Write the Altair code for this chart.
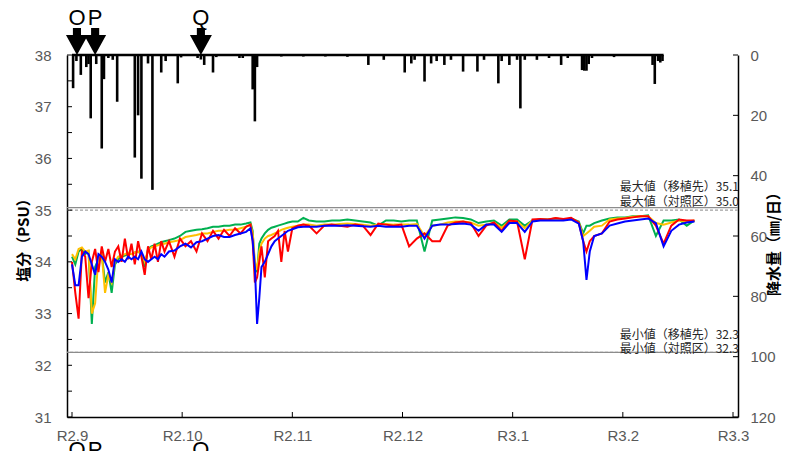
import altair as alt
import pandas as pd

# ---------------- data ----------------
# x position in months from R2.9 (0) to R3.3 (6)
months = [0.00, 0.03, 0.06, 0.09, 0.12, 0.15, 0.18, 0.21, 0.24, 0.27, 0.30, 0.33, 0.36, 0.39, 0.42,
          0.45, 0.48, 0.51, 0.54, 0.57, 0.60, 0.63, 0.66, 0.69, 0.72, 0.75, 0.78, 0.81, 0.84,
          0.88, 0.93, 0.98, 1.03, 1.08, 1.13, 1.18, 1.23, 1.28, 1.33, 1.38, 1.43, 1.48, 1.53, 1.58, 1.62,
          1.64, 1.66, 1.68, 1.70, 1.72, 1.75, 1.78, 1.81, 1.84, 1.87, 1.90, 1.93, 1.96, 2.00, 2.05, 2.10, 2.15,
          2.22, 2.29, 2.36, 2.43, 2.50, 2.57, 2.64, 2.71, 2.78, 2.85, 2.92, 2.99, 3.06, 3.13, 3.20, 3.27,
          3.34, 3.41, 3.48, 3.55, 3.62, 3.69, 3.76, 3.83, 3.90, 3.97, 4.04, 4.11, 4.18, 4.25, 4.32, 4.39,
          4.46, 4.53, 4.60, 4.64, 4.67, 4.70, 4.74, 4.81, 4.88, 4.95, 5.02, 5.09, 5.16, 5.23, 5.30, 5.37,
          5.44, 5.51, 5.58, 5.65]

green = [34.10, 33.95, 34.20, 34.25, 34.15, 34.20, 32.80, 33.90, 34.05, 34.15, 33.60, 33.80, 33.40, 33.95, 34.05,
         34.10, 34.12, 34.15, 34.15, 34.18, 34.20, 34.15, 33.90, 34.25, 34.30, 34.32, 34.35, 34.38, 34.40,
         34.42, 34.45, 34.50, 34.58, 34.60, 34.62, 34.63, 34.65, 34.68, 34.68, 34.70, 34.70, 34.72, 34.72, 34.74, 34.76,
         34.60, 33.90, 33.80, 34.35, 34.45, 34.55, 34.62, 34.66, 34.68, 34.70, 34.72, 34.74, 34.76, 34.78, 34.78, 34.85, 34.80,
         34.78, 34.78, 34.80, 34.80, 34.82, 34.80, 34.78, 34.76, 34.70, 34.80, 34.80, 34.78, 34.80, 34.80, 34.20, 34.80,
         34.82, 34.84, 34.86, 34.85, 34.82, 34.75, 34.78, 34.80, 34.70, 34.82, 34.82, 34.70, 34.80, 34.82, 34.82, 34.84,
         34.82, 34.84, 34.78, 34.55, 34.70, 34.70, 34.75, 34.80, 34.84, 34.86, 34.86, 34.88, 34.88, 34.90, 34.50, 34.80,
         34.80, 34.82, 34.70, 34.80]

yellow = [34.15, 34.05, 34.25, 34.28, 34.20, 34.22, 33.00, 33.20, 34.10, 34.15, 33.40, 33.75, 33.60, 34.00, 34.10,
          34.12, 34.15, 34.18, 34.15, 34.18, 34.20, 34.15, 34.00, 34.22, 34.28, 34.30, 34.32, 34.35, 34.35,
          34.38, 34.40, 34.42, 34.48, 34.50, 34.52, 34.55, 34.55, 34.58, 34.60, 34.60, 34.62, 34.62, 34.65, 34.68, 34.72,
          34.55, 34.00, 33.85, 34.20, 34.35, 34.45, 34.50, 34.52, 34.55, 34.58, 34.62, 34.64, 34.66, 34.68, 34.70, 34.72, 34.72,
          34.70, 34.72, 34.72, 34.73, 34.74, 34.73, 34.72, 34.70, 34.72, 34.73, 34.72, 34.72, 34.72, 34.73, 34.50, 34.70,
          34.72, 34.76, 34.78, 34.78, 34.76, 34.70, 34.72, 34.76, 34.66, 34.78, 34.78, 34.65, 34.80, 34.82, 34.82, 34.84,
          34.82, 34.84, 34.76, 34.50, 34.55, 34.60, 34.68, 34.70, 34.82, 34.84, 34.85, 34.87, 34.88, 34.88, 34.75, 34.72,
          34.76, 34.80, 34.78, 34.80]

red = [34.00, 33.40, 32.90, 34.20, 34.10, 33.30, 34.00, 34.25, 33.80, 34.30, 34.00, 34.25, 33.90, 34.20, 34.30,
       34.00, 34.45, 34.05, 34.35, 33.95, 34.40, 34.10, 33.75, 34.30, 34.05, 34.35, 34.00, 34.40, 34.20,
       34.40, 34.10, 34.45, 34.30, 34.40, 34.20, 34.55, 34.40, 34.60, 34.45, 34.62, 34.50, 34.65, 34.55, 34.68, 34.72,
       34.40, 33.60, 33.70, 34.00, 34.30, 33.70, 34.40, 34.45, 34.50, 34.60, 34.00, 34.60, 34.20, 34.65, 34.70, 34.72, 34.70,
       34.55, 34.70, 34.72, 34.70, 34.68, 34.72, 34.70, 34.52, 34.74, 34.72, 34.70, 34.72, 34.30, 34.45, 34.55, 34.40,
       34.40, 34.70, 34.76, 34.78, 34.75, 34.50, 34.70, 34.76, 34.60, 34.80, 34.78, 34.05, 34.82, 34.83, 34.82, 34.85,
       34.83, 34.85, 34.76, 34.40, 34.20, 34.40, 34.50, 34.55, 34.78, 34.82, 34.84, 34.86, 34.88, 34.88, 34.70, 34.35,
       34.70, 34.82, 34.80, 34.80]

blue = [33.95, 33.55, 33.55, 34.10, 34.20, 34.15, 33.95, 33.75, 34.15, 34.10, 34.00, 33.85, 33.60, 34.05, 34.00,
        34.05, 34.00, 34.10, 34.05, 34.10, 34.05, 34.20, 34.05, 34.00, 34.05, 34.10, 34.05, 34.15, 34.10,
        34.20, 34.22, 34.30, 34.35, 34.28, 34.38, 34.40, 34.45, 34.50, 34.52, 34.48, 34.48, 34.52, 34.55, 34.58, 34.65,
        34.40, 33.90, 32.80, 33.30, 33.90, 34.00, 34.15, 34.30, 34.40, 34.45, 34.50, 34.55, 34.60, 34.63, 34.67, 34.68, 34.68,
        34.68, 34.70, 34.70, 34.70, 34.71, 34.70, 34.69, 34.68, 34.70, 34.68, 34.68, 34.68, 34.70, 34.70, 34.45, 34.70,
        34.72, 34.72, 34.73, 34.74, 34.72, 34.60, 34.72, 34.72, 34.58, 34.75, 34.75, 34.58, 34.78, 34.80, 34.80, 34.80,
        34.80, 34.82, 34.74, 34.40, 33.65, 34.20, 34.50, 34.55, 34.70, 34.74, 34.78, 34.80, 34.82, 34.84, 34.75, 34.30,
        34.60, 34.72, 34.76, 34.78]

rain_month = [0.01, 0.04, 0.08, 0.13, 0.15, 0.17, 0.22, 0.27, 0.29, 0.33, 0.37, 0.41, 0.57, 0.60, 0.63, 0.69,
              0.73, 0.81, 0.85, 0.96, 0.99, 1.14, 1.17, 1.20, 1.28, 1.31, 1.52, 1.55, 1.64, 1.66, 1.68, 1.90,
              2.10, 2.30, 2.50, 2.69, 2.83, 3.02, 3.08, 3.11, 3.20, 3.26, 3.31, 3.38, 3.44, 3.55, 3.68, 3.74,
              3.87, 3.90, 3.97, 4.04, 4.07, 4.11, 4.22, 4.33, 4.44, 4.50, 4.63, 4.65, 4.67, 4.69, 4.72, 4.92,
              5.27, 5.29, 5.32, 5.34, 5.36]
rain_mm = [11, 2, 6.6, 4, 3, 21, 3, 31, 8, 1, 1.6, 15.5, 34, 20, 41, 2.8,
           44.7, 5.8, 2, 9.4, 0.8, 1, 1.5, 3.3, 5.8, 0.7, 1, 1, 11.4, 22, 4, 0.5,
           0.5, 0.5, 0.6, 3.3, 1.6, 5.8, 2.8, 1.6, 8.8, 2.8, 2, 3.3, 1.6, 5.5, 5.5, 1.6,
           9.4, 2, 3.3, 1.6, 17.7, 1.6, 1.6, 1, 3.3, 1, 5, 5.2, 5.2, 3, 1, 0.7,
           3.3, 9.6, 2, 2.5, 2]
rain_span = [0.0, 5.37]

x_ticks = [0, 1, 2, 3, 4, 5, 6]
x_labels = ["R2.9", "R2.10", "R2.11", "R2.12", "R3.1", "R3.2", "R3.3"]
sal_ticks = [31, 32, 33, 34, 35, 36, 37, 38]
sal_minor = [31, 31.5, 32, 32.5, 33, 33.5, 34, 34.5, 35, 35.5, 36, 36.5, 37, 37.5, 38]
rain_ticks = [0, 20, 40, 60, 80, 100, 120]

event_names = ["O", "P", "Q"]
event_month = [0.045, 0.21, 1.17]

ref_solid = [35.05, 32.25]
ref_dashed = [35.00, 32.25]
ann_text = ["最大値（移植先）35.1", "最大値（対照区）35.0", "最小値（移植先）32.3", "最小値（対照区）32.3"]
ann_ypos = [35.45, 35.16, 32.59, 32.32]

# ---------------- chart ----------------
W, H = 671, 362
FONT = "Liberation Sans"
JP = "Noto Sans CJK JP"

x_scale = alt.Scale(domain=[0, 6], nice=False, zero=False)
sal_scale = alt.Scale(domain=[31, 38], nice=False, zero=False)
rain_scale = alt.Scale(domain=[0, 120], nice=False, reverse=True)

label_expr = "[" + ",".join("'%s'" % s for s in x_labels) + "][datum.value]"
x_axis = alt.Axis(values=x_ticks, labelExpr=label_expr, ticks=False, grid=False, title="",
                  domainColor="black", domainWidth=1.5, labelColor="#595959", labelFont=FONT,
                  labelFontSize=15, labelPadding=11, labelFlush=False, labelOverlap=False)
left_axis = alt.Axis(orient="left", values=sal_ticks, ticks=False, grid=False, title="塩分（PSU）",
                     domainColor="black", domainWidth=1.5, labelColor="#595959", labelFont=FONT,
                     labelFontSize=15, labelPadding=16, titleFont=JP, titleFontSize=15,
                     titleFontWeight="bold", titleColor="black", titleAngle=270,
                     titleX=-44, titleY=H / 2, titleBaseline="middle", titleAlign="center")
right_axis = alt.Axis(orient="right", values=rain_ticks, ticks=False, grid=False, title="降水量（㎜/日）",
                      domainColor="black", domainWidth=1.5, labelColor="#595959", labelFont=FONT,
                      labelFontSize=15, labelPadding=12, titleFont=JP, titleFontSize=15,
                      titleFontWeight="bold", titleColor="black", titleAngle=270,
                      titleX=35, titleY=H / 2 + 4, titleBaseline="middle", titleAlign="center")


def X(field):
    return alt.X(field, scale=x_scale, axis=x_axis)


def YS(field):
    return alt.Y(field, scale=sal_scale, axis=left_axis)


def YR(field):
    return alt.Y(field, scale=rain_scale, axis=right_axis)


sal_df = pd.DataFrame({"m": months, "green": green, "yellow": yellow, "red": red, "blue": blue})


def sal_line(col, color):
    return alt.Chart(sal_df).mark_line(color=color, strokeWidth=2).encode(
        x=X("m:Q"), y=YS(col + ":Q"))


ref_s = alt.Chart(pd.DataFrame({"v": ref_solid})).mark_rule(color="#8c8c8c", strokeWidth=1.3).encode(
    y=YS("v:Q"))
ref_d = alt.Chart(pd.DataFrame({"v": ref_dashed})).mark_rule(color="#a0a0a0", strokeWidth=1.1,
                                                               strokeDash=[3, 2]).encode(
    y=YS("v:Q"))

ann = alt.Chart(pd.DataFrame({"t": ann_text, "y": ann_ypos, "x": [6] * 4})).mark_text(
    align="right", baseline="middle", dx=6, font=JP, fontSize=12, color="#262626", clip=True).encode(
    x=X("x:Q"), y=YS("y:Q"), text="t:N")

left_ticks = alt.Chart(pd.DataFrame({"v": sal_minor})).mark_rule(color="black", strokeWidth=1).encode(
    y=YS("v:Q"), x=alt.value(0), x2=alt.value(5))

bottom_ticks = alt.Chart(pd.DataFrame({"m": x_ticks})).mark_rule(color="black", strokeWidth=1).encode(
    x=X("m:Q"), y=alt.value(H - 5), y2=alt.value(H))

arrow_path = "M-0.3,-1L0.3,-1L0.3,-0.48L0.815,-0.48L0,1L-0.815,-0.48L-0.3,-0.48Z"
ev_df = pd.DataFrame({"m": event_month, "n": event_names})
arrows = alt.Chart(ev_df).mark_point(shape=arrow_path, size=729, filled=True, color="black",
                                     opacity=1, strokeWidth=0).encode(
    x=X("m:Q"), y=alt.value(-13.5))
ev_top = alt.Chart(ev_df).mark_text(font=FONT, fontSize=22, baseline="alphabetic", color="black").encode(
    x=X("m:Q"), y=alt.value(-30), text="n:N")
ev_bot = alt.Chart(ev_df).mark_text(font=FONT, fontSize=22, baseline="alphabetic", color="black").encode(
    x=X("m:Q"), y=alt.value(H + 40), text="n:N")

sal_layer = alt.layer(
    ref_d, ref_s, left_ticks, bottom_ticks,
    sal_line("green", "#00B050"),
    sal_line("yellow", "#FFC000"),
    sal_line("red", "#FF0000"),
    sal_line("blue", "#0000FF"),
    ann, arrows, ev_top, ev_bot,
)

rain_df = pd.DataFrame({"m": rain_month, "mm": rain_mm})
rain_bars = alt.Chart(rain_df).mark_bar(color="black", size=2.6).encode(
    x=X("m:Q"), y=YR("mm:Q"))
rain_base = alt.Chart(pd.DataFrame({"a": [rain_span[0]], "b": [rain_span[1]], "z": [0]})).mark_rule(
    color="black", strokeWidth=2.5).encode(
    x=X("a:Q"), x2="b:Q", y=YR("z:Q"))
right_ticks = alt.Chart(pd.DataFrame({"v": rain_ticks})).mark_rule(color="black", strokeWidth=1).encode(
    y=YR("v:Q"), x=alt.value(W - 5), x2=alt.value(W))
rain_layer = alt.layer(rain_bars, rain_base, right_ticks)

chart = alt.layer(sal_layer, rain_layer).resolve_scale(y="independent").properties(
    width=W, height=H,
    padding={"left": 59, "top": 47, "right": 44, "bottom": 40},
    autosize=alt.AutoSizeParams(type="none"),
).configure_view(stroke=None)

chart.save("out.html", embed_options={"renderer": "svg", "actions": False})
